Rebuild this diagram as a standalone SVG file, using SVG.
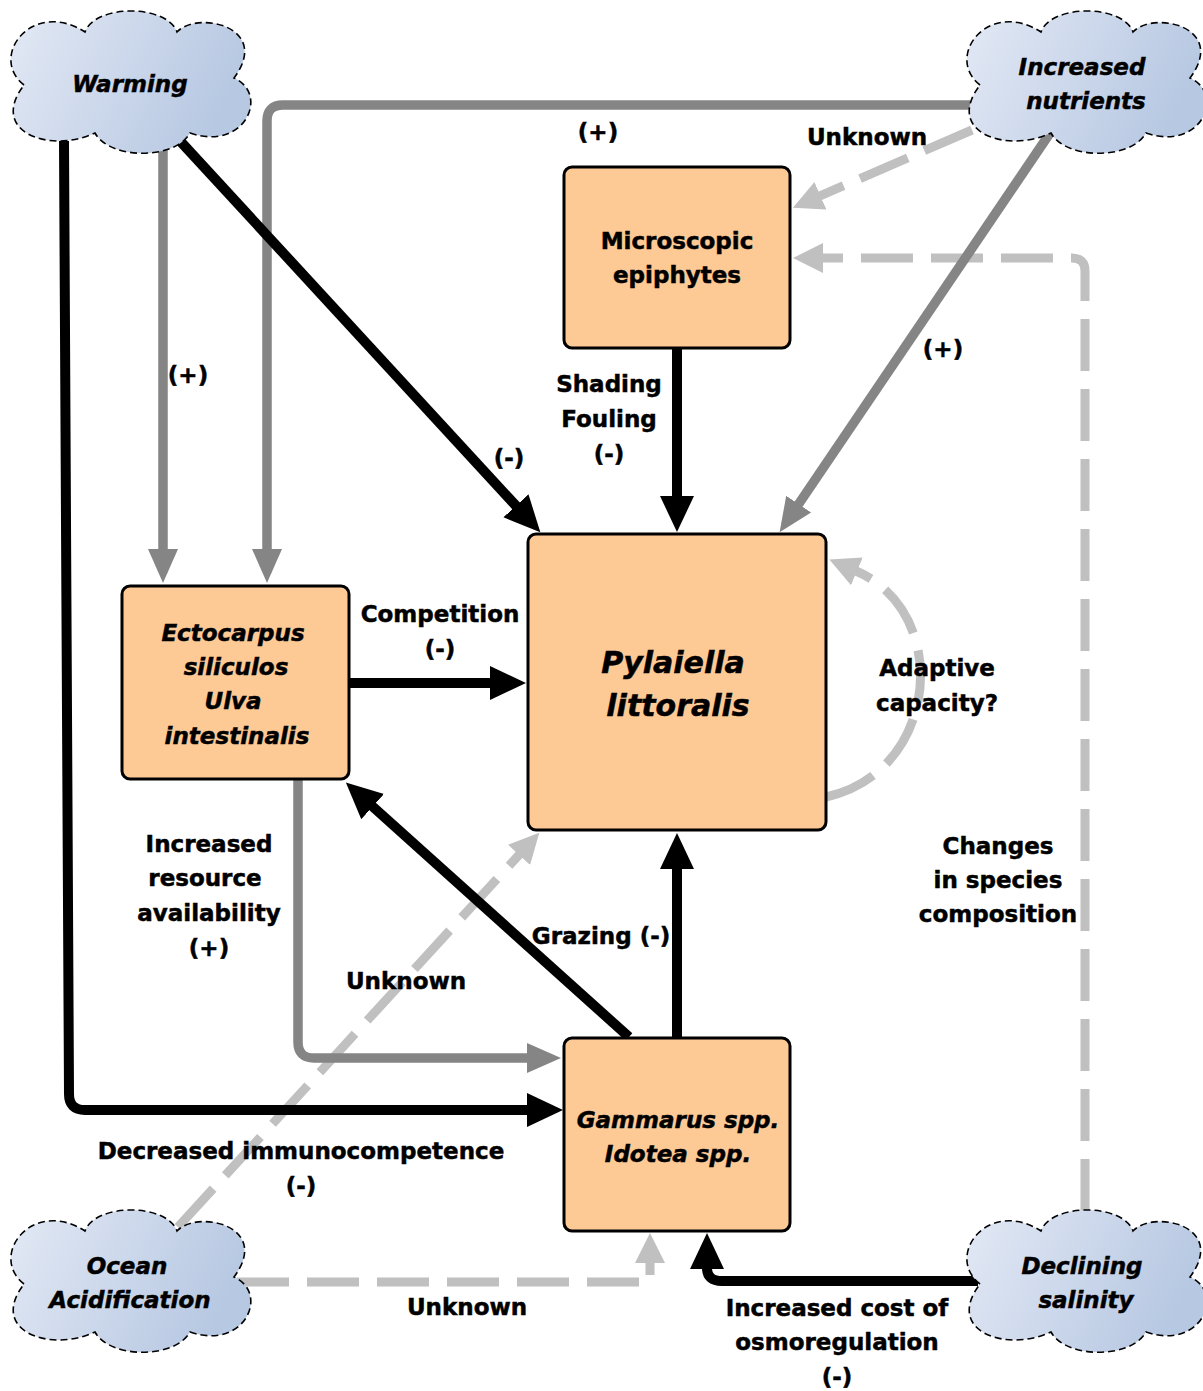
<svg xmlns="http://www.w3.org/2000/svg" xmlns:xlink="http://www.w3.org/1999/xlink" width="1203" height="1391" viewBox="0 0 1203 1391">
<defs>
<style>
.t{font-family:"DejaVu Sans","Liberation Sans",sans-serif;font-weight:bold;font-size:23px;fill:#000;stroke:#000;stroke-width:0.5;text-anchor:middle}
.i{font-style:italic}
.big{font-size:30px}
.box{fill:#fdc995;stroke:#000;stroke-width:3}
.cloud{fill:url(#cg);stroke:#000;stroke-width:1.6;stroke-dasharray:7 4}
.k{fill:none;stroke:#000;stroke-width:10}
.g{fill:none;stroke:#858585;stroke-width:9.5}
.l{fill:none;stroke:#c0c0c0;stroke-width:9;stroke-dasharray:52 18}
</style>
<linearGradient id="cg" x1="0" y1="0" x2="1" y2="0.3">
<stop offset="0" stop-color="#e3e9f5"/>
<stop offset="1" stop-color="#b7c8e2"/>
</linearGradient>
<path id="cloudShape" d="M14,73 C-22,45 22,-14 75,20 C85,-8 157,-8 167,20 C188,-2 262,15 224,66 C260,82 235,140 180,121 C165,148 100,148 85,121 C40,142 -22,120 14,73 Z"/>
<marker id="ak" markerUnits="userSpaceOnUse" markerWidth="40" markerHeight="36" viewBox="0 -18 40 36" refX="1" refY="0" orient="auto"><path d="M0,-17 L36,0 L0,17 z" fill="#000"/></marker>
<marker id="ag" markerUnits="userSpaceOnUse" markerWidth="38" markerHeight="32" viewBox="0 -16 38 32" refX="1" refY="0" orient="auto"><path d="M0,-15 L34,0 L0,15 z" fill="#858585"/></marker>
<marker id="al" markerUnits="userSpaceOnUse" markerWidth="34" markerHeight="32" viewBox="0 -16 34 32" refX="1" refY="0" orient="auto"><path d="M0,-15 L30,0 L0,15 z" fill="#c0c0c0"/></marker>
</defs>
<rect width="1203" height="1391" fill="#fff"/>

<g id="connectors">
<path class="l" d="M972,130 L819.5,196.1" marker-end="url(#al)"/>
<path class="l" d="M1085,1211 L1085,271 Q1085,258 1072,258 L822,258" marker-end="url(#al)"/>
<path class="l" d="M826,797 C940,772 952,612 856,571" marker-end="url(#al)"/>
<path class="l" d="M178,1227 L519.7,854.1" marker-end="url(#al)"/>
<path class="l" d="M237,1282 H650 V1262" marker-end="url(#al)"/>
<path class="g" d="M163,150 L163,550" marker-end="url(#ag)"/>
<path class="g" d="M970,105 L283,105 Q267,105 267,121 L267,550" marker-end="url(#ag)"/>
<path class="g" d="M1050,133 L798.1,504.9" marker-end="url(#ag)"/>
<path class="g" d="M298,780 L298,1042 Q298,1058 314,1058 L528,1058" marker-end="url(#ag)"/>
<path class="k" d="M64,141 L69,1094 Q69,1110 85,1110 L528,1110" marker-end="url(#ak)"/>
<path class="k" d="M181,142 L516.6,506.5" marker-end="url(#ak)"/>
<path class="k" d="M677,348 L677,497" marker-end="url(#ak)"/>
<path class="k" d="M349,683 L491,683" marker-end="url(#ak)"/>
<path class="k" d="M629,1037 L371.9,805.9" marker-end="url(#ak)"/>
<path class="k" d="M677,1038 L677,868" marker-end="url(#ak)"/>
<path class="k" d="M978,1281 L722,1281 Q707,1281 707,1268" marker-end="url(#ak)"/>
</g>

<g id="warming">
<use xlink:href="#cloudShape" class="cloud" x="10" y="12"/>
<text class="t i" x="130" y="92">Warming</text>
</g>
<g id="nutrients">
<use xlink:href="#cloudShape" class="cloud" x="966" y="12"/>
<text class="t i" x="1082" y="75">Increased</text>
<text class="t i" x="1086" y="109">nutrients</text>
</g>
<g id="acidification">
<use xlink:href="#cloudShape" class="cloud" x="10" y="1211"/>
<text class="t i" x="127" y="1274">Ocean</text>
<text class="t i" x="130" y="1308">Acidification</text>
</g>
<g id="salinity">
<use xlink:href="#cloudShape" class="cloud" x="966" y="1211"/>
<text class="t i" x="1082" y="1274">Declining</text>
<text class="t i" x="1086" y="1308">salinity</text>
</g>

<g id="epiphytes">
<rect class="box" x="564" y="167" width="226" height="181" rx="8"/>
<text class="t" x="677" y="249">Microscopic</text>
<text class="t" x="677" y="283">epiphytes</text>
</g>
<g id="pylaiella">
<rect class="box" x="528" y="534" width="298" height="296" rx="8"/>
<text class="t i big" x="673" y="673">Pylaiella</text>
<text class="t i big" x="678" y="716">littoralis</text>
</g>
<g id="ectocarpus">
<rect class="box" x="122" y="586" width="227" height="193" rx="8"/>
<text class="t i" x="233" y="641">Ectocarpus</text>
<text class="t i" x="236" y="675">siliculos</text>
<text class="t i" x="233" y="709">Ulva</text>
<text class="t i" x="237" y="744">intestinalis</text>
</g>
<g id="gammarus">
<rect class="box" x="564" y="1038" width="226" height="193" rx="8"/>
<text class="t i" x="678" y="1128">Gammarus spp.</text>
<text class="t i" x="678" y="1162">Idotea spp.</text>
</g>

<g id="labels">
<text class="t" x="598" y="140">(+)</text>
<text class="t" x="867" y="145">Unknown</text>
<text class="t" x="188" y="383">(+)</text>
<text class="t" x="509" y="466">(-)</text>
<text class="t" x="609" y="392">Shading</text>
<text class="t" x="609" y="427">Fouling</text>
<text class="t" x="609" y="462">(-)</text>
<text class="t" x="943" y="357">(+)</text>
<text class="t" x="440" y="622">Competition</text>
<text class="t" x="440" y="657">(-)</text>
<text class="t" x="937" y="676">Adaptive</text>
<text class="t" x="937" y="711">capacity?</text>
<text class="t" x="209" y="852">Increased</text>
<text class="t" x="205" y="886">resource</text>
<text class="t" x="209" y="921">availability</text>
<text class="t" x="209" y="956">(+)</text>
<text class="t" x="998" y="854">Changes</text>
<text class="t" x="998" y="888">in species</text>
<text class="t" x="998" y="922">composition</text>
<text class="t" x="601" y="944">Grazing (-)</text>
<text class="t" x="406" y="989">Unknown</text>
<text class="t" x="301" y="1159">Decreased immunocompetence</text>
<text class="t" x="301" y="1194">(-)</text>
<text class="t" x="467" y="1315">Unknown</text>
<text class="t" x="837" y="1316">Increased cost of</text>
<text class="t" x="837" y="1350">osmoregulation</text>
<text class="t" x="837" y="1385">(-)</text>
</g>
</svg>
